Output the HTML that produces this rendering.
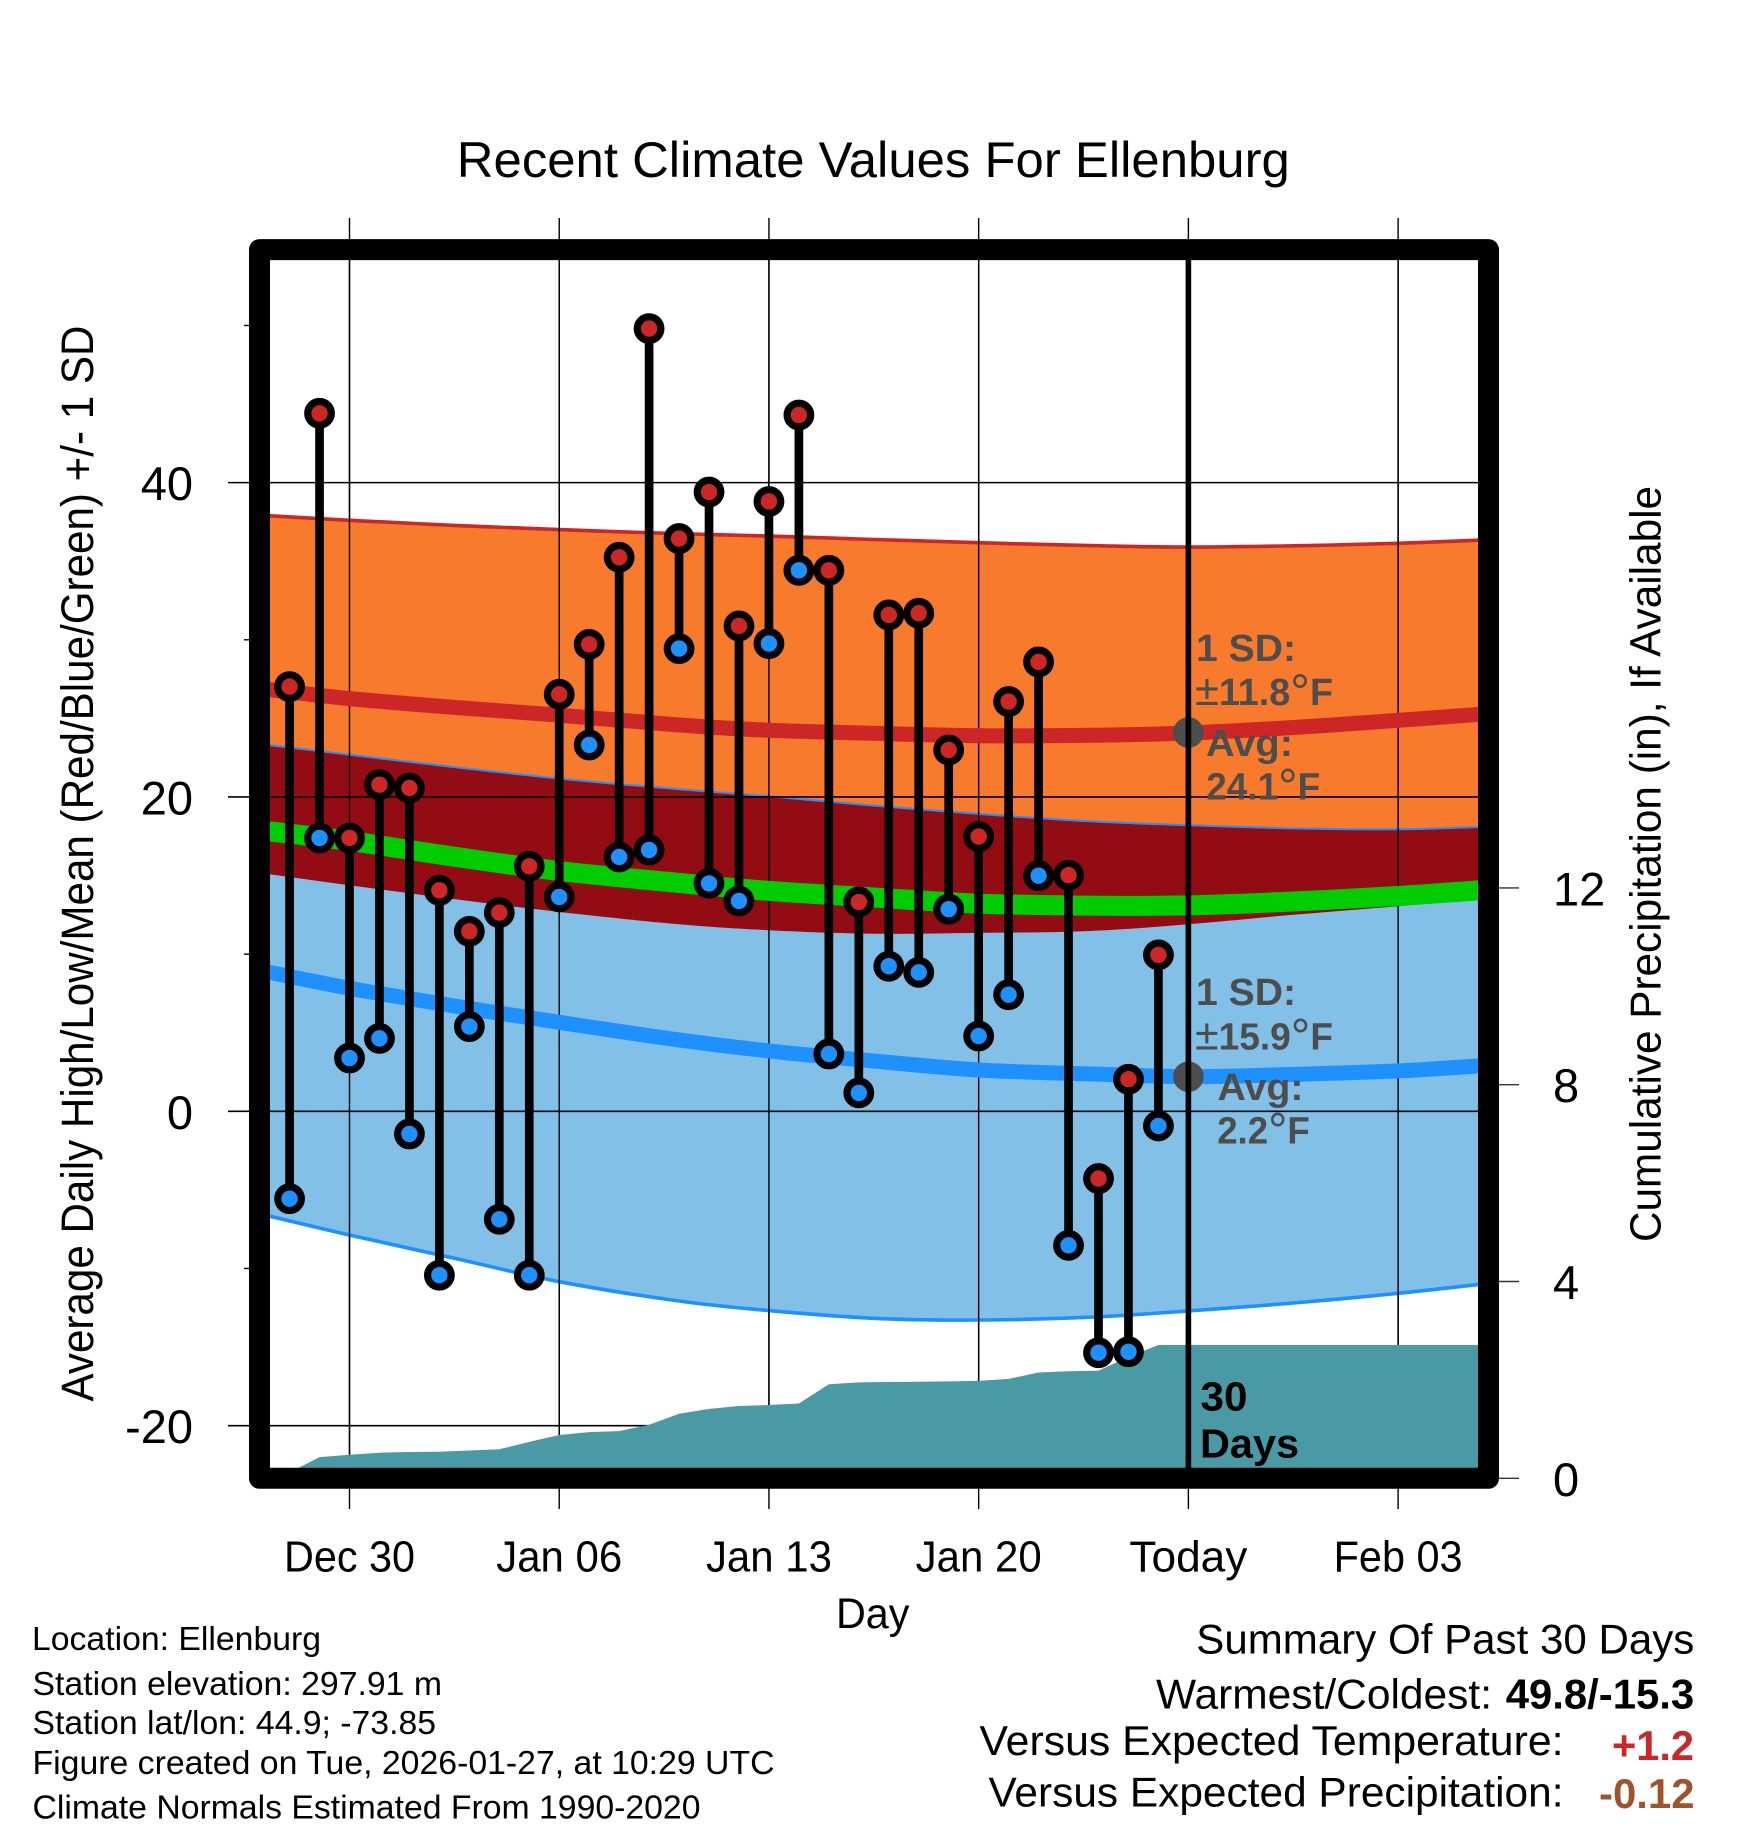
<!DOCTYPE html>
<html lang="en">
<head>
<meta charset="utf-8">
<title>Recent Climate Values For Ellenburg</title>
<style>
html,body{margin:0;padding:0;background:#fff;}
svg{display:block;font-family:"Liberation Sans",Arial,sans-serif;}
.note{font-size:33.5px;fill:#000;}
.sum{font-size:42px;fill:#000;}
.ann{font-size:38px;font-weight:bold;fill:#4d4d4d;}
.deg{font-size:50px;font-weight:normal;}
.pm{font-size:44px;font-weight:normal;}
</style>
</head>
<body>
<svg id="chart" xmlns="http://www.w3.org/2000/svg" width="1748" height="1828" viewBox="0 0 1748 1828">
  <rect x="0" y="0" width="1748" height="1828" fill="#ffffff"/>
  <text x="873.3" y="177" text-anchor="middle" font-size="50" textLength="833" lengthAdjust="spacingAndGlyphs">Recent Climate Values For Ellenburg</text>
  <g id="ticks"></g>
  <g id="fills"></g>
  <g id="grid"></g>
  <g id="means"></g>
  <g id="precip"></g>
  <g id="today"></g>
  <g id="obs"></g>
  <rect x="259.5" y="249.6" width="1229" height="1228.7" fill="none" stroke="#000" stroke-width="21" stroke-linejoin="round"/>
  <g id="labels"></g>

  <text transform="translate(93,863.5) rotate(-90)" text-anchor="middle" font-size="45" textLength="1076" lengthAdjust="spacingAndGlyphs">Average Daily High/Low/Mean (Red/Blue/Green) +/- 1 SD</text>
  <text transform="translate(1660.5,864) rotate(-90)" text-anchor="middle" font-size="44" textLength="756" lengthAdjust="spacingAndGlyphs">Cumulative Precipitation (in), If Available</text>
  <text x="872.7" y="1628" text-anchor="middle" font-size="43" textLength="73.5" lengthAdjust="spacingAndGlyphs">Day</text>

  <text class="ann" x="1196" y="661" textLength="100" lengthAdjust="spacingAndGlyphs">1 SD:</text>
  <text class="ann" x="1195" y="705" textLength="138" lengthAdjust="spacingAndGlyphs"><tspan class="pm">±</tspan>11.8<tspan class="deg" dy="4">°</tspan><tspan dy="-4">F</tspan></text>
  <text class="ann" x="1206" y="756" textLength="87" lengthAdjust="spacingAndGlyphs">Avg:</text>
  <text class="ann" x="1206.2" y="799.3" textLength="114" lengthAdjust="spacingAndGlyphs">24.1<tspan class="deg" dy="4">°</tspan><tspan dy="-4">F</tspan></text>
  <text class="ann" x="1196" y="1005" textLength="100" lengthAdjust="spacingAndGlyphs">1 SD:</text>
  <text class="ann" x="1195" y="1049.3" textLength="138" lengthAdjust="spacingAndGlyphs"><tspan class="pm">±</tspan>15.9<tspan class="deg" dy="4">°</tspan><tspan dy="-4">F</tspan></text>
  <text class="ann" x="1217.5" y="1100" textLength="86" lengthAdjust="spacingAndGlyphs">Avg:</text>
  <text class="ann" x="1217.2" y="1143.3" textLength="92.5" lengthAdjust="spacingAndGlyphs">2.2<tspan class="deg" dy="4">°</tspan><tspan dy="-4">F</tspan></text>
  <text x="1200.5" y="1410.7" font-size="41" font-weight="bold" textLength="47" lengthAdjust="spacingAndGlyphs">30</text>
  <text x="1200" y="1457.3" font-size="41" font-weight="bold" textLength="99" lengthAdjust="spacingAndGlyphs">Days</text>

  <text class="note" x="32" y="1650" textLength="289" lengthAdjust="spacingAndGlyphs">Location: Ellenburg</text>
  <text class="note" x="32.5" y="1695" textLength="409.5" lengthAdjust="spacingAndGlyphs">Station elevation: 297.91 m</text>
  <text class="note" x="32.5" y="1734" textLength="403.5" lengthAdjust="spacingAndGlyphs">Station lat/lon: 44.9; -73.85</text>
  <text class="note" x="32.5" y="1774" textLength="742" lengthAdjust="spacingAndGlyphs">Figure created on Tue, 2026-01-27, at 10:29 UTC</text>
  <text class="note" x="32.5" y="1818.3" textLength="668" lengthAdjust="spacingAndGlyphs">Climate Normals Estimated From 1990-2020</text>

  <text class="sum" x="1196.3" y="1653.3" textLength="498" lengthAdjust="spacingAndGlyphs">Summary Of Past 30 Days</text>
  <text class="sum" x="1156" y="1708.3" textLength="336" lengthAdjust="spacingAndGlyphs">Warmest/Coldest:</text>
  <text class="sum" x="1505.7" y="1708.3" font-weight="bold" textLength="188.5" lengthAdjust="spacingAndGlyphs">49.8/-15.3</text>
  <text class="sum" x="979.5" y="1755" textLength="584" lengthAdjust="spacingAndGlyphs">Versus Expected Temperature:</text>
  <text class="sum" x="1612" y="1760" font-weight="bold" style="fill:#cd2626" textLength="82" lengthAdjust="spacingAndGlyphs">+1.2</text>
  <text class="sum" x="988.5" y="1806.7" textLength="575" lengthAdjust="spacingAndGlyphs">Versus Expected Precipitation:</text>
  <text class="sum" x="1599" y="1808" font-weight="bold" style="fill:#a0522d" textLength="95.5" lengthAdjust="spacingAndGlyphs">-0.12</text>
</svg>
<script>
// Day offsets are days relative to Dec 30.
const obsDays = [-2,-1,0,1,2,3,4,5,6,7,8,9,10,11,12,13,14,15,16,17,18,19,20,21,22,23,24,25,26,27];
const dailyHigh = [27.02,44.41,17.39,20.78,20.57,14.06,11.45,12.64,15.59,26.53,29.71,35.25,49.8,36.44,39.4,30.88,38.8,44.3,34.42,13.32,31.58,31.69,22.99,17.48,26.07,28.59,15.02,-4.28,2.04,9.95];
const dailyLow = [-5.56,17.39,3.39,4.64,-1.44,-10.43,5.39,-6.87,-10.43,13.64,23.31,16.18,16.63,29.44,14.5,13.38,29.76,34.42,3.65,1.17,9.23,8.84,12.86,4.79,7.42,14.99,-8.53,-15.36,-15.3,-0.93];
const precipDays = [-2,-1,0,1,2,3,4,5,6,7,8,9,10,11,12,13,14,15,16,17,18,19,20,21,22,23,24,25,26,27,38];
const precipTotal = [0.12,0.43,0.48,0.52,0.535,0.54,0.565,0.59,0.74,0.88,0.94,0.96,1.09,1.31,1.41,1.47,1.49,1.52,1.91,1.95,1.957,1.963,1.97,1.98,2.02,2.15,2.175,2.19,2.465,2.71,2.71];

const normalDays = [-3,0,3.5,7,11,14,17.5,21,24.7,28,31.5,35,38];
const highUpper = [37.93,37.6,37.28,37.01,36.75,36.6,36.38,36.18,35.99,35.9,35.98,36.14,36.36];
const highMean = [26.9,26.26,25.7,25.2,24.58,24.24,24.05,23.9,23.92,24.07,24.42,24.88,25.3];
const highLower = [15.17,14.38,13.5,12.68,11.9,11.52,11.3,11.35,11.47,11.9,12.5,13.05,13.55];
const lowUpper = [23.37,22.69,21.9,21.17,20.49,20.04,19.45,18.92,18.45,18.2,18.0,17.94,18.11];
const lowMean = [8.97,7.83,6.7,5.66,4.54,3.84,3.2,2.63,2.38,2.2,2.35,2.57,2.93];
const lowLower = [-6.52,-7.87,-9.35,-10.84,-12.07,-12.68,-13.17,-13.28,-13.1,-12.7,-12.2,-11.58,-10.95];
const overallMean = [17.88,17.2,16.2,15.29,14.53,14.02,13.6,13.21,13.09,13.1,13.35,13.7,14.1];

const xTickDays = [0,7,14,21,28,35];
const xTickLabels = ["Dec 30","Jan 06","Jan 13","Jan 20","Today","Feb 03"];
const xTickWidths = [131,126,126,126,118,129];
const yTickValues = [40,20,0,-20];
const yTickLabels = ["40","20","0","-20"];
const yMinorValues = [50,30,10,-10];
const rightTickValues = [0,4,8,12];
const rightTickLabels = ["0","4","8","12"];
const todayDay = 28;
const todayHigh = 24.1;
const todayLow = 2.2;

const SVGNS = "http://www.w3.org/2000/svg";
function xPos(d){ return 349.5 + 29.96 * d; }
function yTemp(v){ return 1111.3 - 15.717 * v; }
function yPrecip(v){ return 1478.3 - 49.2 * v; }
function mk(parent, tag, attrs){
  const el = document.createElementNS(SVGNS, tag);
  for (const k in attrs) el.setAttribute(k, attrs[k]);
  parent.appendChild(el);
  return el;
}
function pts(days, vals, yf){
  return days.map((d, i) => xPos(d).toFixed(1) + "," + yf(vals[i]).toFixed(1));
}
// Smooth Catmull-Rom segments through the normals.
function smoothSegs(days, vals){
  const P = days.map((d, i) => [xPos(d), yTemp(vals[i])]);
  let s = "";
  for (let i = 0; i < P.length - 1; i++){
    const p0 = P[Math.max(i - 1, 0)], p1 = P[i], p2 = P[i + 1], p3 = P[Math.min(i + 2, P.length - 1)];
    const c1x = p1[0] + (p2[0] - p0[0]) / 6, c1y = p1[1] + (p2[1] - p0[1]) / 6;
    const c2x = p2[0] - (p3[0] - p1[0]) / 6, c2y = p2[1] - (p3[1] - p1[1]) / 6;
    s += " C" + c1x.toFixed(1) + " " + c1y.toFixed(1) + " " + c2x.toFixed(1) + " " + c2y.toFixed(1) + " " + p2[0].toFixed(1) + " " + p2[1].toFixed(1);
  }
  return s;
}
function band(parent, upper, lower, fill){
  const revDays = normalDays.slice().reverse();
  const revLower = lower.slice().reverse();
  const d = "M" + xPos(normalDays[0]).toFixed(1) + " " + yTemp(upper[0]).toFixed(1) + smoothSegs(normalDays, upper)
    + " L" + xPos(revDays[0]).toFixed(1) + " " + yTemp(revLower[0]).toFixed(1) + smoothSegs(revDays, revLower) + " Z";
  return mk(parent, "path", {d: d, fill: fill});
}
function curve(parent, vals, color, width){
  const d = "M" + xPos(normalDays[0]).toFixed(1) + " " + yTemp(vals[0]).toFixed(1) + smoothSegs(normalDays, vals);
  return mk(parent, "path", {d: d, fill: "none", stroke: color, "stroke-width": width});
}

const gFills = document.getElementById("fills");
const gGrid = document.getElementById("grid");
const gMeans = document.getElementById("means");
const gPrecip = document.getElementById("precip");
const gToday = document.getElementById("today");
const gObs = document.getElementById("obs");
const gTicks = document.getElementById("ticks");
const gLabels = document.getElementById("labels");

// Clip region for all plot content
const defs = mk(document.getElementById("chart"), "defs", {});
const clip = mk(defs, "clipPath", {id: "plot-clip"});
mk(clip, "rect", {x: 259.5, y: 249.6, width: 1229, height: 1228.7});
[gFills, gGrid, gMeans, gPrecip].forEach(g => g.setAttribute("clip-path", "url(#plot-clip)"));

// Bands
const highBand = band(gFills, highUpper, highLower, "#f77a2d");


const lowBand = band(gFills, lowUpper, lowLower, "#82c0e8");


const overlapBand = band(gFills, lowUpper, highLower, "#930c13");


const highUpperLine = curve(gFills, highUpper, "#cd2626", 3.6);


const lowUpperLine = curve(gFills, lowUpper, "#1e90ff", 2);


const lowLowerLine = curve(gFills, lowLower, "#1e90ff", 3.6);



// Gridlines, ticks, tick labels
xTickDays.forEach((d, i) => {
  const grid = mk(gGrid, "line", {x1: xPos(d), x2: xPos(d), y1: 249.6, y2: 1478.3, stroke: "#000", "stroke-width": 1.4});
  
  
  const tick = mk(gTicks, "line", {x1: xPos(d), x2: xPos(d), y1: 218, y2: 1509, stroke: "#000", "stroke-width": 1.4});
  
  
  const label = mk(gLabels, "text", {x: xPos(d), y: 1571.5, "text-anchor": "middle", "font-size": 44, textLength: xTickWidths[i], lengthAdjust: "spacingAndGlyphs"});
  label.textContent = xTickLabels[i];
  
  
});
yTickValues.forEach((v, i) => {
  const grid = mk(gGrid, "line", {x1: 259.5, x2: 1488.5, y1: yTemp(v), y2: yTemp(v), stroke: "#000", "stroke-width": 1.6});
  
  
  const tick = mk(gTicks, "line", {x1: 228, x2: 250, y1: yTemp(v), y2: yTemp(v), stroke: "#000", "stroke-width": 1.6});
  
  
  const label = mk(gLabels, "text", {x: 193, y: yTemp(v) + 17.5, "text-anchor": "end", "font-size": 47});
  label.textContent = yTickLabels[i];
  
  
});
yMinorValues.forEach((v) => {
  const tick = mk(gTicks, "line", {x1: 244, x2: 250, y1: yTemp(v), y2: yTemp(v), stroke: "#000", "stroke-width": 1.4});
  
  
});
rightTickValues.forEach((v, i) => {
  const tick = mk(gTicks, "line", {x1: 1498, x2: 1519, y1: yPrecip(v), y2: yPrecip(v), stroke: "#333", "stroke-width": 1.4});
  
  
  const label = mk(gLabels, "text", {x: 1553, y: yPrecip(v) + 17.5, "font-size": 47});
  label.textContent = rightTickLabels[i];
  
  
});

// Mean lines
const highMeanLine = curve(gMeans, highMean, "#cd2626", 15);


const lowMeanLine = curve(gMeans, lowMean, "#1e90ff", 15);


const overallMeanLine = curve(gMeans, overallMean, "#00cd00", 20);



// Cumulative precipitation
const precipTop = pts(precipDays, precipTotal, yPrecip);
const precipArea = mk(gPrecip, "polygon", {
  points: [xPos(precipDays[0]).toFixed(1) + "," + yPrecip(0)].concat(precipTop, [xPos(precipDays[precipDays.length - 1]).toFixed(1) + "," + yPrecip(0)]).join(" "),
  fill: "#4a9aa5"
});



// Today markers
const highDot = mk(gToday, "circle", {cx: xPos(todayDay), cy: yTemp(todayHigh), r: 15.3, fill: "#4d4d4d"});


const lowDot = mk(gToday, "circle", {cx: xPos(todayDay), cy: yTemp(todayLow), r: 15.3, fill: "#4d4d4d"});


const todayLine = mk(gToday, "line", {x1: xPos(todayDay), x2: xPos(todayDay), y1: 249.6, y2: 1478.3, stroke: "#000", "stroke-width": 5.6});



// Daily observations
obsDays.forEach((d, i) => {
  const x = xPos(d);
  const stem = mk(gObs, "line", {x1: x, x2: x, y1: yTemp(dailyHigh[i]), y2: yTemp(dailyLow[i]), stroke: "#000", "stroke-width": 8.7});
  
  
  const low = mk(gObs, "circle", {cx: x, cy: yTemp(dailyLow[i]), r: 11.8, fill: "#1e90ff", stroke: "#000", "stroke-width": 7.2});
  
  
  const high = mk(gObs, "circle", {cx: x, cy: yTemp(dailyHigh[i]), r: 11.8, fill: "#cd2626", stroke: "#000", "stroke-width": 7.2});
  
  
});
</script>
</body>
</html>
